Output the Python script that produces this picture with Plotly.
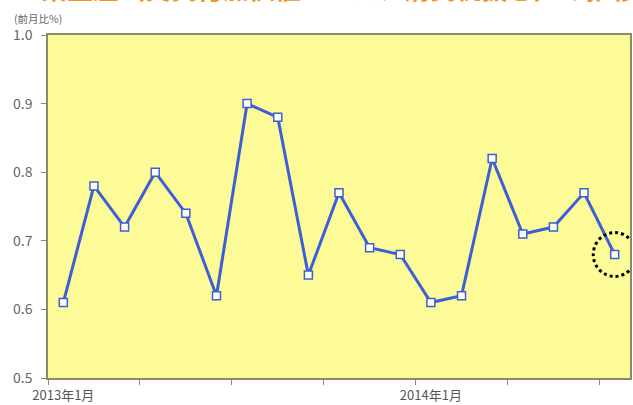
import plotly.graph_objects as go

months = ["2013-01","2013-02","2013-03","2013-04","2013-05","2013-06","2013-07","2013-08",
          "2013-09","2013-10","2013-11","2013-12","2014-01","2014-02","2014-03","2014-04",
          "2014-05","2014-06","2014-07"]
values = [0.61, 0.78, 0.72, 0.80, 0.74, 0.62, 0.90, 0.88, 0.65, 0.77, 0.69, 0.68,
          0.61, 0.62, 0.82, 0.71, 0.72, 0.77, 0.68]
label_idx = [0, 12]
label_text = ["2013年1月", "2014年1月"]
title_text = "工業生産（実質付加価値ベース、消費税抜き）の推移"
ylabel_text = "(前月比%)"

idx = list(range(len(months)))
font = "Noto Sans CJK JP, Noto Sans, sans-serif"

fig = go.Figure()
fig.add_trace(go.Scatter(
    x=idx, y=values, mode="lines+markers",
    line=dict(color="#3d5fd6", width=3),
    marker=dict(symbol="square", size=8, color="white",
                line=dict(color="#3d5fd6", width=1.5)),
    hoverinfo="x+y", showlegend=False,
))

# dotted circle around last point
last = idx[-1]
fig.add_shape(type="circle", xref="x", yref="y",
              x0=last - 0.7, x1=last + 0.7,
              y0=values[-1] - 0.032, y1=values[-1] + 0.032,
              line=dict(color="black", width=3, dash="dot"))

fig.add_annotation(text=title_text, xref="paper", yref="paper",
                   x=-0.06, y=1.078, xanchor="left", yanchor="bottom",
                   showarrow=False,
                   font=dict(family=font, size=26, color="#f7941d", weight="bold"))
fig.add_annotation(text=ylabel_text, xref="paper", yref="paper",
                   x=-0.062, y=1.02, xanchor="left", yanchor="bottom",
                   showarrow=False,
                   font=dict(family=font, size=10.5, color="#666666"))

fig.update_layout(
    width=633, height=405,
    margin=dict(l=48, r=1, t=35, b=25),
    paper_bgcolor="white", plot_bgcolor="#fdfa98",
    font=dict(family=font, color="#555555"),
    xaxis=dict(range=[-0.5, len(months) - 0.5], tickmode="array",
               tickvals=label_idx, ticktext=label_text, ticks="",
               tickfont=dict(size=13, color="#555555"),
               ticklabelstandoff=5,
               showgrid=False, zeroline=False,
               showline=True, linecolor="#8a8a6a", linewidth=1.5, mirror=True,
               minor=dict(tick0=-0.5, dtick=3, ticks="outside", ticklen=5,
                          tickcolor="#8a8a6a", showgrid=False)),
    yaxis=dict(range=[0.5, 1.0], tickmode="linear", tick0=0.5, dtick=0.1,
               tickformat=".1f", ticks="outside", ticklen=5, tickcolor="#8a8a6a",
               tickfont=dict(size=14, color="#666666"),
               ticklabelstandoff=6,
               showgrid=False, zeroline=False,
               showline=True, linecolor="#8a8a6a", linewidth=1.5, mirror=True),
)

fig.write_html("out.html")
